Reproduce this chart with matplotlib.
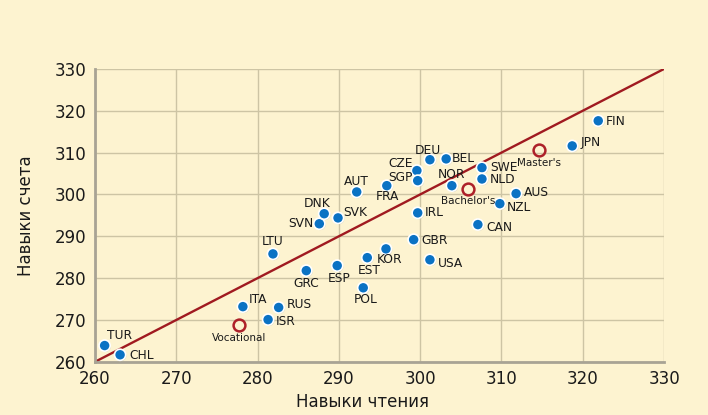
import matplotlib
matplotlib.use('Agg')
import matplotlib.pyplot as plt
import matplotlib.patheffects as pe

plt.rcParams['font.family'] = ['DejaVu Sans']

# Данные: навыки чтения (x) и навыки счета (y)
countries = ['TUR', 'CHL', 'ITA', 'RUS', 'ISR', 'LTU', 'GRC', 'ESP', 'POL', 'EST',
             'KOR', 'SVN', 'DNK', 'SVK', 'AUT', 'FRA', 'CZE', 'SGP', 'DEU', 'BEL',
             'NOR', 'SWE', 'NLD', 'AUS', 'NZL', 'IRL', 'CAN', 'GBR', 'USA', 'JPN', 'FIN']
reading = [261.2, 263.1, 278.2, 282.6, 281.3, 281.9, 286.0, 289.8, 293.0, 293.5,
           295.8, 287.6, 288.2, 289.9, 292.2, 295.9, 299.6, 299.7, 301.2, 303.2,
           303.9, 307.6, 307.6, 311.8, 309.8, 299.7, 307.1, 299.2, 301.2, 318.7, 321.9]
numeracy = [263.9, 261.7, 273.2, 273.0, 270.1, 285.8, 281.8, 283.0, 277.7, 284.9,
            287.0, 293.0, 295.4, 294.4, 300.6, 302.1, 305.7, 303.3, 308.3, 308.5,
            302.1, 306.4, 303.7, 300.2, 297.8, 295.6, 292.8, 289.2, 284.4, 311.6, 317.6]

levels = ['Vocational', "Bachelor's", "Master's"]
levels_reading = [277.7, 305.9, 314.6]
levels_numeracy = [268.9, 301.4, 310.7]

# смещения подписей (пиксели) и выравнивание
label_pos = {
    'TUR': (2, 10, 'left'), 'CHL': (9, -1, 'left'), 'ITA': (6, 7, 'left'),
    'RUS': (8, 3, 'left'), 'ISR': (8, -2, 'left'), 'LTU': (0, 12, 'center'),
    'GRC': (0, -13, 'center'), 'ESP': (2, -13, 'center'), 'POL': (2, -12, 'center'),
    'EST': (2, -13, 'center'), 'KOR': (4, -11, 'center'), 'SVN': (-6, 0, 'right'),
    'DNK': (-7, 10, 'center'), 'SVK': (5, 5, 'left'), 'AUT': (0, 10, 'center'),
    'FRA': (1, -11, 'center'), 'CZE': (-4, 7, 'right'), 'SGP': (-5, 3, 'right'),
    'DEU': (-2, 9, 'center'), 'BEL': (6, 0, 'left'), 'NOR': (0, 11, 'center'),
    'SWE': (8, 0, 'left'), 'NLD': (8, -1, 'left'), 'AUS': (8, 1, 'left'),
    'NZL': (7, -4, 'left'), 'IRL': (7, 0, 'left'), 'CAN': (8, -3, 'left'),
    'GBR': (8, -1, 'left'), 'USA': (8, -4, 'left'), 'JPN': (8, 3, 'left'),
    'FIN': (8, -1, 'left'),
}
level_pos = {'Vocational': (0, -13), "Bachelor's": (0, -12), "Master's": (0, -13)}

bg = '#fdf3d0'
fig = plt.figure(figsize=(7.08, 4.15), dpi=100, facecolor=bg)
ax = fig.add_axes([0.134, 0.128, 0.804, 0.706], facecolor=bg)

ax.set_xlim(260, 330)
ax.set_ylim(260, 330)
ax.set_xticks(range(260, 331, 10))
ax.set_yticks(range(260, 331, 10))
ax.grid(True, color='#cdc4a4', linewidth=1)
ax.set_axisbelow(True)
for s in ['top', 'right']:
    ax.spines[s].set_visible(False)
for s in ['left', 'bottom']:
    ax.spines[s].set_color('#a8a394')
    ax.spines[s].set_linewidth(2)
ax.tick_params(length=0, labelsize=12, colors='#1a1a1a', pad=6)

# линия равенства
ax.plot([260, 330], [260, 330], color='#a01a20', linewidth=1.7, zorder=2)

shadow = [pe.SimplePatchShadow(offset=(0.6, -0.6), alpha=0.15), pe.Normal()]
ax.plot(reading, numeracy, 'o', color='#0a72c4', markersize=8,
        markeredgecolor='white', markeredgewidth=1.2, zorder=3, path_effects=shadow)
ax.plot(levels_reading, levels_numeracy, 'o', markerfacecolor='none',
        markeredgecolor='#ad2129', markersize=8.5, markeredgewidth=1.8, zorder=3)

for c, xv, yv in zip(countries, reading, numeracy):
    dx, dy, ha = label_pos[c]
    ax.annotate(c, (xv, yv), xytext=(dx, dy), textcoords='offset pixels',
                ha=ha, va='center', fontsize=8.8, color='#1a1a1a', zorder=4)
for c, xv, yv in zip(levels, levels_reading, levels_numeracy):
    dx, dy = level_pos[c]
    ax.annotate(c, (xv, yv), xytext=(dx, dy), textcoords='offset pixels',
                ha='center', va='center', fontsize=7.5, color='#1a1a1a', zorder=4)

ax.set_xlabel('Навыки чтения', fontsize=12, color='#1a1a1a')
ax.set_ylabel('Навыки счета', fontsize=12, color='#1a1a1a')
ax.xaxis.set_label_coords(0.47, -0.105)
ax.yaxis.set_label_coords(-0.105, 0.5)

fig.savefig('out.png', dpi=100, facecolor=bg)
